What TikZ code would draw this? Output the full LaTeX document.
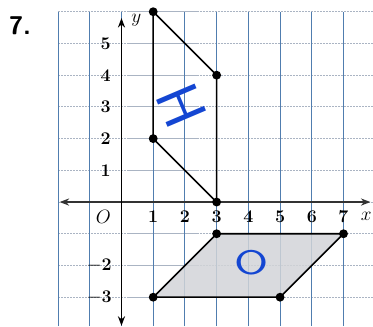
\documentclass[tikz,border=0pt]{standalone}
\usepackage{amsmath,amssymb}
\usepackage{tikz}
\usetikzlibrary{arrows.meta}

\definecolor{gridblue}{RGB}{80,125,175}
\definecolor{gridgray}{RGB}{170,180,195}
\definecolor{shadegray}{RGB}{210,212,216}
\definecolor{penblue}{RGB}{20,70,210}

\begin{document}
\begin{tikzpicture}
\useasboundingbox (-3.83,-3.91) rectangle (7.93,6.37);
\tikzset{
  vline/.style={color=gridblue, line width=0.9pt},
  hline/.style={color=gridgray, line width=0.9pt, dash pattern=on 2pt off 0.7pt},
  vertex/.style={circle, fill=black, inner sep=0pt, minimum size=2.8mm},
  ticklabel/.style={font=\fontsize{16}{18}\selectfont\bfseries},
  pen/.style={color=penblue, font=\fontsize{54}{56}\selectfont\sffamily}
}
% grid
\foreach \y in {-3,...,6} {
\draw[hline] (-2,\y) -- (7.93,\y);
}
\foreach \x in {-2,...,7} {
\draw[vline] (\x,-3.91) -- (\x,6);
}
% axes
\draw[line width=1.6pt, color=black!80, {Stealth[length=3mm]}-{Stealth[length=3mm]}] (-1.95,0) -- (7.85,0);
\draw[line width=1.2pt, {Stealth[length=3mm]}-{Stealth[length=3mm]}] (0,-3.9) -- (0,5.8);
\node[font=\fontsize{17}{19}\selectfont] (xlab) at (7.72,-0.45) {$x$};
\node[font=\fontsize{17}{19}\selectfont] (ylab) at (0.47,5.72) {$y$};
\node[font=\fontsize{16}{18}\selectfont] (orig) at (-0.57,-0.48) {$O$};
\foreach \x in {1,...,7} {
\node[ticklabel] (xt\x) at (\x,-0.46) {\x};
}
\foreach \y in {1,...,5} {
\node[ticklabel] (yt\y) at (-0.5,\y) {\y};
}
\foreach \y in {-2,-3} {
\node[ticklabel] (yt\y) at (-0.7,\y) {$-$\the\numexpr-\y\relax};
}
% figure H
\coordinate (h1) at (1,6);
\coordinate (h2) at (3,4);
\coordinate (h3) at (3,0);
\coordinate (h4) at (1,2);
\draw[line width=1.4pt] (h1) -- (h2) -- (h3) -- (h4) -- cycle;
% figure O
\coordinate (o1) at (3,-1);
\coordinate (o2) at (7,-1);
\coordinate (o3) at (5,-3);
\coordinate (o4) at (1,-3);
\fill[shadegray, opacity=0.85] (o1) -- (o2) -- (o3) -- (o4) -- cycle;
\draw[line width=1.4pt] (o1) -- (o2) -- (o3) -- (o4) -- cycle;
\foreach \p in {h1,h2,h3,h4,o1,o2,o3,o4} {
\node[vertex] at (\p) {};
}
% pen labels
\node[pen, rotate=-67] (hname) at (1.9,3.05) {H};
\node[pen, font=\fontsize{34}{36}\selectfont\sffamily, xscale=1.3, yscale=0.9] (oname) at (4.1,-1.9) {O};
\node[font=\fontsize{23}{25}\selectfont\sffamily\bfseries] (num) at (-3.2,5.55) {7.};
\end{tikzpicture}
\end{document}
